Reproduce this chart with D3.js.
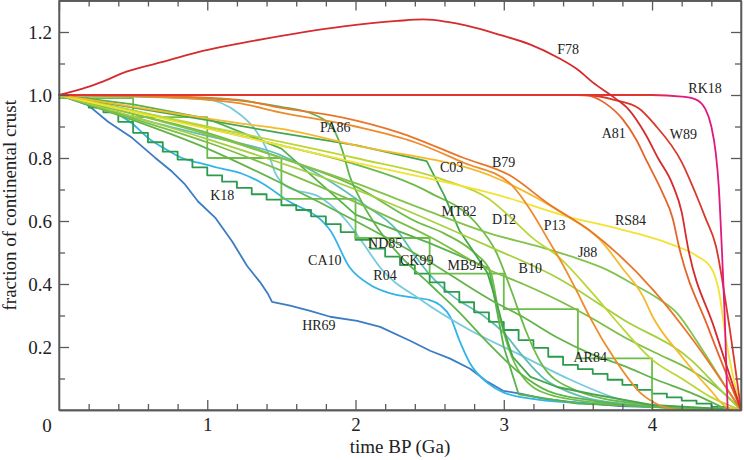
<!DOCTYPE html>
<html>
<head>
<meta charset="utf-8">
<script src="https://d3js.org/d3.v7.min.js"></script>
<style>
    body { margin: 0; background: #ffffff; }
    svg { display: block; }
    .axis path, .axis line { stroke: #5a5a5a; stroke-width: 1.3; }
    .axis text { font-family: "Liberation Serif", "Times New Roman", serif; font-size: 19px; fill: #222; }
    .curve { fill: none; stroke-width: 1.8; stroke-linejoin: round; stroke-linecap: round; }
    .label { font-family: "Liberation Serif", "Times New Roman", serif; font-size: 14px; fill: #222; }
    .title { font-family: "Liberation Serif", "Times New Roman", serif; font-size: 19px; fill: #222; }
</style>
</head>
<body>
<div id="chart"></div>
<script>
var svgWidth = 744;
var svgHeight = 460;
var margin = { top: 0.5, right: 3, bottom: 50, left: 59 };
var width = svgWidth - margin.left - margin.right;
var height = svgHeight - margin.top - margin.bottom;

// tick values
var xMajor = [1, 2, 3, 4];
var xMinor = [0.2, 0.4, 0.6, 0.8, 1.2, 1.4, 1.6, 1.8, 2.2, 2.4, 2.6, 2.8, 3.2, 3.4, 3.6, 3.8, 4.2, 4.4];
var yMajor = [0.2, 0.4, 0.6, 0.8, 1.0, 1.2];
var yMinor = [0.1, 0.3, 0.5, 0.7, 0.9, 1.1];

// curves: [time BP (Ga), fraction of continental crust]
var hr69 = [[0, 1], [0.196, 0.968], [0.331, 0.915], [0.493, 0.864], [0.648, 0.801], [0.762, 0.757], [0.85, 0.716],
    [0.938, 0.662], [1.053, 0.611], [1.167, 0.536], [1.269, 0.457], [1.356, 0.406], [1.41, 0.368], [1.437, 0.343],
    [1.559, 0.331], [1.694, 0.315], [1.829, 0.296], [2.011, 0.283], [2.166, 0.264], [2.368, 0.22], [2.503, 0.188],
    [2.638, 0.163], [2.773, 0.131], [2.888, 0.09], [2.996, 0.061], [3.111, 0.052], [3.266, 0.036], [3.448, 0.026],
    [3.785, 0.012], [4.325, 0.005], [4.6, 0]];
var ca10 = [[0, 1], [0.3, 0.96], [0.49, 0.911], [0.6, 0.864], [0.715, 0.829], [0.83, 0.8], [0.94, 0.785], [1.1, 0.766],
    [1.235, 0.75], [1.37, 0.72], [1.525, 0.67], [1.83, 0.57], [1.96, 0.453], [2.1, 0.397], [2.23, 0.371], [2.37, 0.358],
    [2.5, 0.349], [2.57, 0.333], [2.64, 0.295], [2.7, 0.222], [2.77, 0.15], [2.89, 0.086], [3.0, 0.055], [3.23, 0.033],
    [3.6, 0.02], [4.0, 0.01], [4.6, 0]];
var r04 = [[0, 1], [0.5, 0.995], [0.985, 0.987], [1.208, 0.943], [1.32, 0.892], [1.41, 0.817], [1.457, 0.754],
    [1.525, 0.713], [1.78, 0.67], [1.94, 0.6], [2.05, 0.53], [2.17, 0.45], [2.44, 0.35], [2.77, 0.254], [3.11, 0.175],
    [3.45, 0.096], [3.79, 0.033], [4.2, 0.007], [4.6, 0]];
var ck99 = [[0, 1], [0.5, 0.93], [1, 0.87], [1.49, 0.81], [1.78, 0.74], [2.05, 0.655], [2.28, 0.57], [2.4, 0.49],
    [2.5, 0.43], [2.66, 0.36], [2.86, 0.3], [3.0, 0.245], [3.13, 0.17], [3.27, 0.1], [3.45, 0.055], [3.8, 0.02], [4.6, 0]];
var k18 = [[0, 1], [0.1, 0.99], [0.2, 0.96], [0.3, 0.945], [0.4, 0.915], [0.5, 0.88], [0.6, 0.85], [0.7, 0.82],
    [0.8, 0.795], [0.9, 0.77], [1.0, 0.745], [1.1, 0.725], [1.2, 0.705], [1.3, 0.685], [1.4, 0.668], [1.5, 0.65],
    [1.6, 0.635], [1.7, 0.615], [1.8, 0.59], [1.9, 0.565], [2.0, 0.54], [2.1, 0.512], [2.2, 0.487], [2.3, 0.46],
    [2.4, 0.433], [2.5, 0.405], [2.6, 0.375], [2.7, 0.342], [2.8, 0.31], [2.9, 0.28], [3.0, 0.254], [3.1, 0.222],
    [3.2, 0.197], [3.3, 0.169], [3.4, 0.143], [3.5, 0.13], [3.6, 0.115], [3.7, 0.096], [3.8, 0.08], [3.9, 0.064],
    [4.0, 0.052], [4.1, 0.04], [4.2, 0.03], [4.3, 0.02], [4.4, 0.01], [4.5, 0.004], [4.6, 0]];
var ar84 = [[0, 0.99], [0.5, 0.93], [1.0, 0.8], [1.5, 0.67], [2.0, 0.546], [2.5, 0.433], [3.0, 0.32], [3.5, 0.164],
    [4.0, 0], [4.6, 0]];
var nd85 = [[0, 1], [0.5, 0.97], [1, 0.925], [1.5, 0.83], [2, 0.62], [2.5, 0.53], [2.9, 0.45], [3.0, 0.2], [3.1, 0.05],
    [3.5, 0.02], [4.6, 0]];
var mb94 = [[0, 1], [0.5, 0.94], [1, 0.88], [1.5, 0.8], [2, 0.71], [2.4, 0.6], [2.6, 0.56], [2.8, 0.5], [2.91, 0.44],
    [2.97, 0.3], [3.03, 0.2], [3.12, 0.11], [3.3, 0.05], [3.7, 0.02], [4.6, 0]];
var pa86 = [[0, 1], [0.61, 0.995], [1.15, 0.985], [1.49, 0.963], [1.71, 0.94], [1.85, 0.892], [1.916, 0.817],
    [1.96, 0.744], [2.03, 0.671], [2.15, 0.577], [2.3, 0.49], [2.5, 0.4], [2.7, 0.31], [2.9, 0.21], [3.1, 0.12],
    [3.3, 0.06], [3.6, 0.03], [4.0, 0.01], [4.6, 0]];
var mt82 = [[0, 1], [0.5, 0.95], [1, 0.895], [1.5, 0.84], [2, 0.78], [2.5, 0.69], [2.8, 0.6], [2.95, 0.5], [3.05, 0.38],
    [3.15, 0.25], [3.25, 0.15], [3.45, 0.07], [3.9, 0.02], [4.6, 0]];
var c03 = [[0, 1], [0.5, 0.96], [1, 0.92], [1.49, 0.88], [2.01, 0.84], [2.48, 0.79], [2.6, 0.68], [2.7, 0.57],
    [2.8, 0.5], [2.89, 0.435], [2.96, 0.327], [3.0, 0.254], [3.06, 0.169], [3.18, 0.105], [3.36, 0.073], [3.6, 0.05],
    [4.0, 0.016], [4.6, 0]];
var g8 = [[0, 1], [0.5, 0.92], [1, 0.83], [1.5, 0.72], [2, 0.6], [2.5, 0.47], [2.91, 0.35], [3.13, 0.295],
    [3.36, 0.23], [3.58, 0.18], [3.81, 0.14], [4.03, 0.096], [4.26, 0.055], [4.51, 0]];
var b10 = [[0, 1], [0.5, 0.925], [1, 0.85], [1.5, 0.76], [2, 0.66], [2.5, 0.55], [2.91, 0.443], [3.13, 0.4],
    [3.36, 0.35], [3.58, 0.295], [3.81, 0.232], [4.03, 0.18], [4.26, 0.127], [4.48, 0.055], [4.6, 0]];
var g6 = [[0, 1], [1, 0.86], [2, 0.7], [2.91, 0.517], [3.36, 0.42], [3.81, 0.286], [4.26, 0.16], [4.48, 0.055], [4.6, 0]];
var j88 = [[0, 1], [0.5, 0.94], [1, 0.875], [1.5, 0.8], [2, 0.72], [2.5, 0.63], [2.91, 0.56], [3.25, 0.517],
    [3.47, 0.485], [3.7, 0.444], [3.87, 0.4], [4.03, 0.357], [4.17, 0.307], [4.3, 0.22], [4.48, 0.086], [4.6, 0]];
var d12 = [[0, 1], [1, 0.9], [2, 0.8], [2.6, 0.73], [2.9, 0.67], [3.01, 0.627], [3.21, 0.54], [3.36, 0.49], [3.6, 0.37],
    [3.8, 0.26], [4.0, 0.16], [4.2, 0.1], [4.4, 0.04], [4.6, 0]];
var rs84 = [[0, 1], [0.6, 0.935], [1.22, 0.87], [2.0, 0.785], [2.98, 0.68], [3.46, 0.61], [3.75, 0.578], [4.14, 0.524],
    [4.3, 0.49], [4.4, 0.45], [4.45, 0.38], [4.5, 0.22], [4.6, 0]];
var gold = [[0, 1], [0.6, 0.955], [1.22, 0.91], [1.49, 0.893], [2.0, 0.84], [2.98, 0.73], [3.41, 0.62], [3.65, 0.54],
    [3.8, 0.45], [3.94, 0.36], [4.0, 0.3], [4.2, 0.17], [4.4, 0.06], [4.5, 0.01], [4.6, 0]];
var p13 = [[0, 1], [0.6, 0.995], [1.2, 0.975], [1.49, 0.945], [2.0, 0.9], [2.4, 0.85], [2.73, 0.785], [3.04, 0.72],
    [3.2, 0.62], [3.3, 0.54], [3.4, 0.46], [3.5, 0.37], [3.58, 0.295], [3.75, 0.16], [3.92, 0.055], [4.05, 0.015], [4.17, 0]];
var b79 = [[0, 1], [0.6, 0.997], [1.2, 0.985], [1.49, 0.96], [1.9, 0.93], [2.3, 0.88], [2.73, 0.8], [3.04, 0.745],
    [3.3, 0.655], [3.58, 0.57], [4.01, 0.38], [4.28, 0.22], [4.6, 0]];
var a81 = [[0, 1], [3.5, 1], [3.57, 0.998], [3.68, 0.975], [3.8, 0.924], [3.89, 0.861], [3.97, 0.785], [4.07, 0.69],
    [4.14, 0.607], [4.18, 0.522], [4.38, 0.26], [4.6, 0]];
var w89 = [[0, 1], [3.55, 1], [3.75, 0.984], [3.91, 0.958], [4.02, 0.905], [4.2, 0.787], [4.29, 0.692], [4.36, 0.61],
    [4.43, 0.522], [4.52, 0.27], [4.6, 0]];
var rk18 = [[0, 1], [4.0, 1], [4.2, 0.995], [4.29, 0.987], [4.36, 0.955], [4.4, 0.9], [4.43, 0.815], [4.45, 0.71],
    [4.47, 0.52], [4.49, 0.3], [4.51, 0]];
var f78 = [[0, 1], [0.16, 1.02], [0.28, 1.04], [0.46, 1.075], [0.7, 1.105], [0.97, 1.14], [1.29, 1.17], [1.92, 1.218],
    [2.28, 1.235], [2.46, 1.24], [2.62, 1.232], [2.75, 1.22], [2.98, 1.19], [3.18, 1.16], [3.36, 1.12], [3.5, 1.08],
    [3.6, 1.04], [3.75, 0.99], [3.84, 0.955], [3.95, 0.88], [4.04, 0.8], [4.14, 0.714], [4.2, 0.628], [4.24, 0.522],
    [4.42, 0.26], [4.6, 0]];

// curve labels and where their text starts (Ga, fraction)
var labelNames = ["F78", "RK18", "A81", "W89", "B79", "C03", "PA86", "MT82", "D12", "P13", "RS84", "J88", "B10",
    "K18", "ND85", "CK99", "MB94", "CA10", "R04", "HR69", "AR84"];
var labelT = [3.36, 4.245, 3.66, 4.12, 2.92, 2.57, 1.76, 2.58, 2.92, 3.27, 3.75, 3.5, 3.1,
    1.02, 2.085, 2.3, 2.62, 1.68, 2.12, 1.64, 3.47];
var labelF = [1.13, 1.005, 0.864, 0.861, 0.772, 0.756, 0.883, 0.617, 0.592, 0.573, 0.586, 0.485, 0.434,
    0.668, 0.513, 0.459, 0.444, 0.459, 0.412, 0.254, 0.153];

var svg = d3
    .select("#chart")
    .append("svg")
    .attr("width", svgWidth)
    .attr("height", svgHeight);

var chartGroup = svg.append("g")
    .attr("transform", `translate(${margin.left}, ${margin.top})`);

var xScale = d3.scaleLinear().domain([0, 4.6]).range([0, width]);
var yScale = d3.scaleLinear().domain([0, 1.3]).range([height, 0]);

// colour ramp for RK18 (red along the top, magenta where it falls)
var grad = svg.append("defs").append("linearGradient")
    .attr("id", "rkGrad")
    .attr("gradientUnits", "userSpaceOnUse")
    .attr("x1", xScale(3.95)).attr("x2", xScale(4.2))
    .attr("y1", 0).attr("y2", 0);
grad.append("stop").attr("offset", "0%").attr("stop-color", "#e3352d");
grad.append("stop").attr("offset", "100%").attr("stop-color", "#e0197c");

var smooth = d3.curveMonotoneX;
var seriesList = [
    { data: hr69, color: "#3b7cc3", curve: d3.curveLinear },
    { data: ca10, color: "#33b4e6", curve: smooth },
    { data: r04, color: "#78cadf", curve: smooth },
    { data: ck99, color: "#62bdb6", curve: smooth },
    { data: k18, color: "#2b9b4c", curve: d3.curveStepAfter, width: 2.1 },
    { data: ar84, color: "#6cbe4b", curve: d3.curveStepAfter },
    { data: nd85, color: "#58b24b", curve: d3.curveLinear },
    { data: mb94, color: "#70bd46", curve: smooth },
    { data: pa86, color: "#5fb54c", curve: smooth },
    { data: mt82, color: "#6cba47", curve: smooth },
    { data: c03, color: "#46a74a", curve: d3.curveLinear },
    { data: g8, color: "#62b44a", curve: smooth },
    { data: b10, color: "#7dbf45", curve: smooth },
    { data: g6, color: "#a6cf3e", curve: smooth },
    { data: j88, color: "#84c34a", curve: smooth },
    { data: d12, color: "#bbd638", curve: smooth },
    { data: rs84, color: "#f3e232", curve: smooth },
    { data: gold, color: "#f6b92c", curve: smooth },
    { data: p13, color: "#ee8b2b", curve: smooth },
    { data: b79, color: "#e8772b", curve: smooth },
    { data: a81, color: "#e4642c", curve: smooth },
    { data: w89, color: "#d9392c", curve: smooth },
    { data: rk18, color: "url(#rkGrad)", curve: smooth },
    { data: f78, color: "#d62b2e", curve: smooth }
];

// draw every curve
seriesList.forEach(function (s) {
    var line = d3.line()
        .x(d => xScale(d[0]))
        .y(d => yScale(d[1]))
        .curve(s.curve);
    chartGroup.append("path")
        .datum(s.data)
        .attr("class", "curve")
        .attr("d", line)
        .attr("stroke", s.color)
        .attr("stroke-width", s.width || 1.8);
});

// axes, ticks pointing inward
function addAxis(axisFn, scale, values, size, translate, showText) {
    var ax = axisFn(scale).tickValues(values).tickSizeInner(-size).tickSizeOuter(0);
    if (!showText) ax.tickFormat("");
    var g = chartGroup.append("g")
        .attr("class", "axis")
        .attr("transform", translate)
        .call(ax);
    return { axis: ax, group: g };
}

var bottomMajor = addAxis(d3.axisBottom, xScale, xMajor, 10, `translate(0, ${height})`, true);
bottomMajor.axis.tickPadding(8);
bottomMajor.group.call(bottomMajor.axis.tickFormat(d3.format("d")));
addAxis(d3.axisBottom, xScale, xMinor, 6, `translate(0, ${height})`, false);
addAxis(d3.axisTop, xScale, [0].concat(xMajor), 10, "translate(0, 0)", false);
addAxis(d3.axisTop, xScale, xMinor, 6, "translate(0, 0)", false);

var leftMajor = addAxis(d3.axisLeft, yScale, yMajor, 10, "translate(0, 0)", true);
leftMajor.axis.tickPadding(7);
leftMajor.group.call(leftMajor.axis.tickFormat(d3.format(".1f")));
addAxis(d3.axisLeft, yScale, yMinor, 6, "translate(0, 0)", false);
addAxis(d3.axisRight, yScale, yMajor, 10, `translate(${width}, 0)`, false);
addAxis(d3.axisRight, yScale, yMinor, 6, `translate(${width}, 0)`, false);

// frame lines
chartGroup.append("rect")
    .attr("x", 0).attr("y", 0)
    .attr("width", width).attr("height", height)
    .attr("fill", "none")
    .attr("stroke", "#5a5a5a")
    .attr("stroke-width", 1.3);

// the corner zero
chartGroup.append("text")
    .attr("class", "title")
    .attr("x", -12)
    .attr("y", height + 22)
    .attr("text-anchor", "middle")
    .text("0");

// curve labels
chartGroup.selectAll(".label")
    .data(labelNames)
    .enter()
    .append("text")
    .attr("class", "label")
    .attr("x", (d, i) => xScale(labelT[i]))
    .attr("y", (d, i) => yScale(labelF[i]))
    .text(d => d);

// axis titles
chartGroup.append("text")
    .attr("class", "title")
    .attr("x", width / 2)
    .attr("y", height + 43)
    .attr("text-anchor", "middle")
    .text("time BP (Ga)");

chartGroup.append("text")
    .attr("class", "title")
    .attr("transform", "rotate(-90)")
    .attr("x", 0 - (height / 2))
    .attr("y", 16 - margin.left)
    .attr("text-anchor", "middle")
    .text("fraction of continental crust");
</script>
</body>
</html>
